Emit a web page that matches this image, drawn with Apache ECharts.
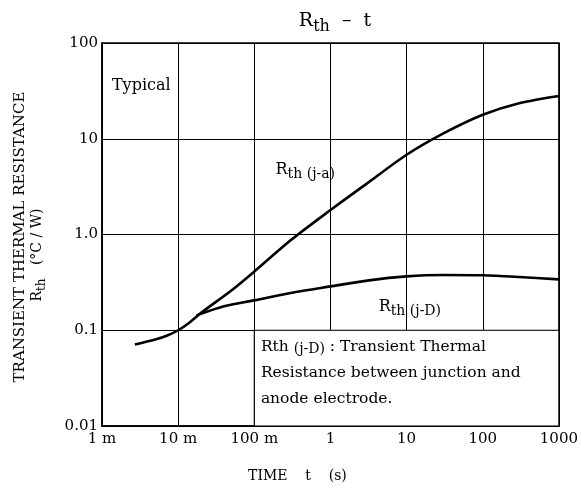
<!DOCTYPE html>
<html>
<head>
<meta charset="utf-8">
<script src="https://cdn.jsdelivr.net/npm/echarts@6/dist/echarts.min.js"></script>
<style>
  html, body { margin: 0; padding: 0; background: #fff; }
  #main { width: 581px; height: 488px; }
</style>
</head>
<body>
<div id="main"></div>
<script>
// time (s) / Rth (°C/W)
var timeJA = [0.0027, 0.005, 0.0072, 0.01, 0.014, 0.02, 0.05, 0.1, 0.3, 1, 3, 10, 30, 100, 300, 1000];
var rthJA  = [0.071, 0.08, 0.088, 0.1, 0.12, 0.152, 0.26, 0.41, 0.87, 1.8, 3.4, 6.8, 11.3, 17.8, 23.5, 28];
var timeJD = [0.0175, 0.04, 0.1, 0.3, 1, 3.2, 10, 30, 100, 300, 1000];
var rthJD  = [0.143, 0.178, 0.205, 0.245, 0.287, 0.332, 0.365, 0.378, 0.375, 0.36, 0.34];

var xTickLabels = ['1 m', '10 m', '100 m', '1', '10', '100', '1000'];
var yTickLabels = ['0.01', '0.1', '1.0', '10', '100'];

var serif = '"DejaVu Serif", "Liberation Serif", serif';

function pairs(xs, ys) {
  var out = [];
  for (var i = 0; i < xs.length; i++) out.push([xs[i], ys[i]]);
  return out;
}

var myChart = echarts.init(document.getElementById('main'));

var option = {
  backgroundColor: '#fff',
  animation: false,
  title: {
    text: '{a|R}{b|th}{a|  –  t}',
    left: 330, top: 7, textAlign: 'center',
    textStyle: {
      fontWeight: 'normal',
      rich: {
        a: { fontFamily: serif, fontSize: 19, fontWeight: 'normal', color: '#000', verticalAlign: 'top', lineHeight: 23 },
        b: { fontFamily: serif, fontSize: 16, fontWeight: 'normal', color: '#000', verticalAlign: 'bottom', lineHeight: 23 }
      }
    }
  },
  grid: {
    left: 102, right: 20, top: 43, bottom: 61,
    show: true, borderColor: '#000', borderWidth: 1.5
  },
  xAxis: {
    type: 'log', logBase: 10, min: 0.001, max: 1000,
    name: 'TIME    t    (s)',
    nameLocation: 'middle', nameGap: 43,
    nameTextStyle: { fontFamily: serif, fontSize: 14, color: '#000', padding: [0, 66, 0, 0] },
    axisLine: { lineStyle: { color: '#000', width: 1.5 } },
    axisTick: { show: false },
    axisLabel: {
      fontFamily: serif, fontSize: 15, color: '#000', margin: 6,
      formatter: function (v) { return xTickLabels[Math.round(Math.log10(v)) + 3]; }
    },
    splitLine: { show: true, lineStyle: { color: '#000', width: 1 } }
  },
  yAxis: {
    type: 'log', logBase: 10, min: 0.01, max: 100,
    axisLine: { lineStyle: { color: '#000', width: 1.5 } },
    axisTick: { show: false },
    axisLabel: {
      fontFamily: serif, fontSize: 15, color: '#000', margin: 4,
      formatter: function (v) { return yTickLabels[Math.round(Math.log10(v)) + 2]; }
    },
    splitLine: { show: true, lineStyle: { color: '#000', width: 1 } }
  },
  series: [
    {
      name: 'Rth(j-a)', type: 'line', smooth: 0.3, showSymbol: false,
      data: pairs(timeJA, rthJA),
      lineStyle: { color: '#000', width: 2.6 },
      z: 3,
      markArea: {
        silent: true,
        itemStyle: { color: '#fff', borderColor: '#000', borderWidth: 1.2 },
        data: [[{ coord: [0.1, 0.01] }, { coord: [1000, 0.1] }]]
      }
    },
    {
      name: 'Rth(j-D)', type: 'line', smooth: 0.3, showSymbol: false,
      data: pairs(timeJD, rthJD),
      lineStyle: { color: '#000', width: 2.6 },
      z: 3
    }
  ]
};
myChart.setOption(option);

// annotations, placed in data space
function px(t, r) { return myChart.convertToPixel({ gridIndex: 0 }, [t, r]); }
var subRich = {
  a: { fontFamily: serif, fontSize: 16, fill: '#000', verticalAlign: 'top', lineHeight: 19 },
  b: { fontFamily: serif, fontSize: 14, fill: '#000', verticalAlign: 'bottom', lineHeight: 19 },
  t: { fontFamily: serif, fontSize: 15.5, fill: '#000', lineHeight: 26 },
  s: { fontFamily: serif, fontSize: 14, fill: '#000', lineHeight: 26, padding: [5, 0, 0, 0] }
};
var pTyp = px(0.00135, 34), pJA = px(0.19, 4.5), pJD = px(4.3, 0.166), pNote = px(0.122, 0.062);

myChart.setOption({
  graphic: [
    { type: 'text', left: pTyp[0], top: pTyp[1] - 10, z: 10,
      style: { text: 'Typical', font: '16px ' + serif, fill: '#000' } },
    { type: 'text', left: pJA[0], top: pJA[1] - 10, z: 10,
      style: { text: '{a|R}{b|th (j-a)}', rich: subRich } },
    { type: 'text', left: pJD[0], top: pJD[1] - 10, z: 10,
      style: { text: '{a|R}{b|th (j-D)}', rich: subRich } },
    { type: 'text', left: pNote[0], top: pNote[1] - 13, z: 10,
      style: {
        text: '{t|Rth }{s|(j-D)}{t| : Transient Thermal}\n{t|Resistance between junction and}\n{t|anode electrode.}',
        rich: subRich
      } },
    { type: 'text', z: 10,
      x: 20, y: 237, rotation: Math.PI / 2,
      style: { text: 'TRANSIENT THERMAL RESISTANCE', font: '15px ' + serif, fill: '#000',
               align: 'center', verticalAlign: 'middle' } },
    { type: 'text', z: 10,
      x: 39, y: 255, rotation: Math.PI / 2,
      style: { text: '{a|R}{b|th}{a|   (°C / W)}', align: 'center', verticalAlign: 'middle',
               rich: {
                 a: { fontFamily: serif, fontSize: 14, fill: '#000', verticalAlign: 'top', lineHeight: 17 },
                 b: { fontFamily: serif, fontSize: 12, fill: '#000', verticalAlign: 'bottom', lineHeight: 17 }
               } } }
  ]
});

window.addEventListener('resize', function () { myChart.resize(); });
</script>
</body>
</html>
